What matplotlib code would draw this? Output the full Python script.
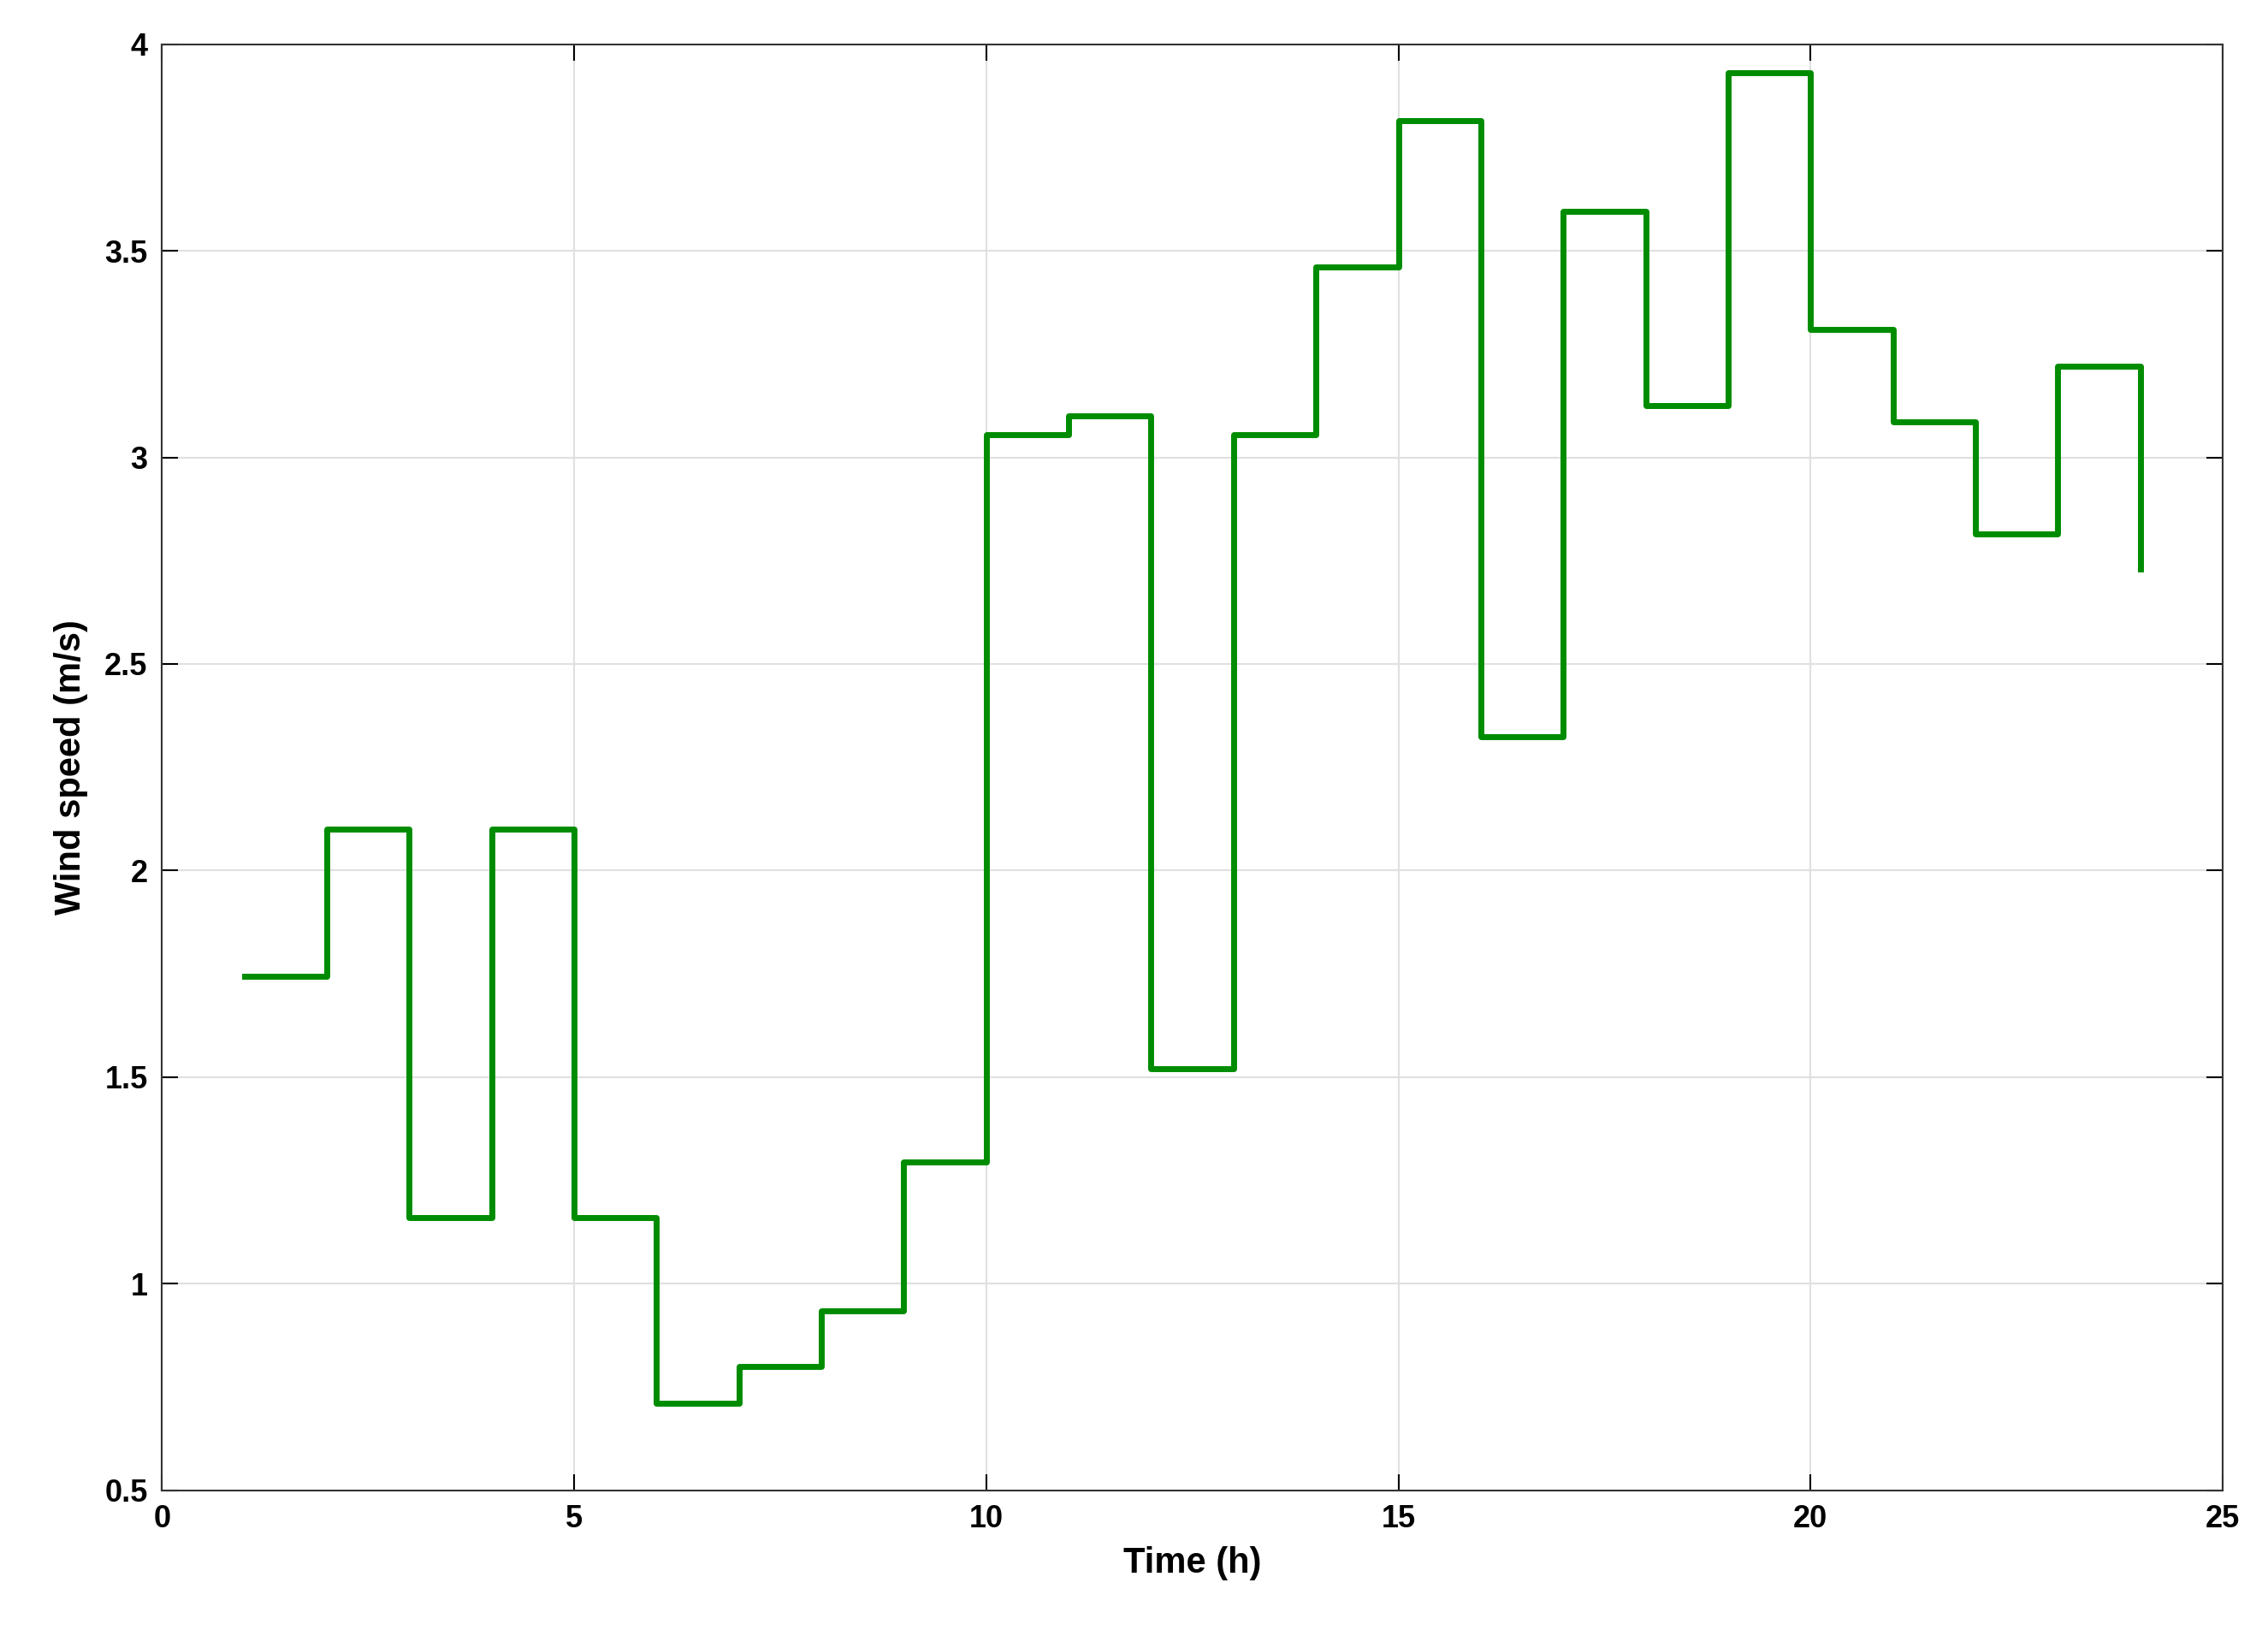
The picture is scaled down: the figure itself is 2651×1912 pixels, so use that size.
import matplotlib.pyplot as plt

hours = list(range(1, 25))
wind = [1.745, 2.10, 1.16, 2.10, 1.16, 0.71, 0.80, 0.935, 1.295, 3.055, 3.10, 1.52,
        3.055, 3.46, 3.815, 2.325, 3.595, 3.125, 3.93, 3.31, 3.085, 2.815, 3.22, 2.73]

plt.rcParams['font.family'] = ['Arial', 'Liberation Sans', 'DejaVu Sans']
fig = plt.figure(figsize=(26.51, 19.12), dpi=100)
ax = fig.add_axes([0.0714, 0.089, 0.9086, 0.884])
ax.step(hours, wind, where='post', color='#008c00', linewidth=5)
ax.set_xlim(0, 25)
ax.set_ylim(0.5, 4)
ax.set_xticks(range(0, 26, 5))
ax.set_yticks([0.5, 1, 1.5, 2, 2.5, 3, 3.5, 4])
ax.set_yticklabels(['0.5', '1', '1.5', '2', '2.5', '3', '3.5', '4'])
ax.grid(True, color='#e0e0e0', linewidth=1.5)
ax.tick_params(direction='in', top=True, right=True, length=14, width=1.5,
               labelsize=26, pad=12)
for lab in ax.get_xticklabels() + ax.get_yticklabels():
    lab.set_fontweight('bold')
for s in ax.spines.values():
    s.set_linewidth(1.5)
    s.set_color('#333333')
ax.set_xlabel('Time (h)', fontsize=30, fontweight='bold', labelpad=10)
ax.set_ylabel('Wind speed (m/s)', fontsize=30, fontweight='bold', labelpad=14)
fig.savefig('out.png', dpi=100)
